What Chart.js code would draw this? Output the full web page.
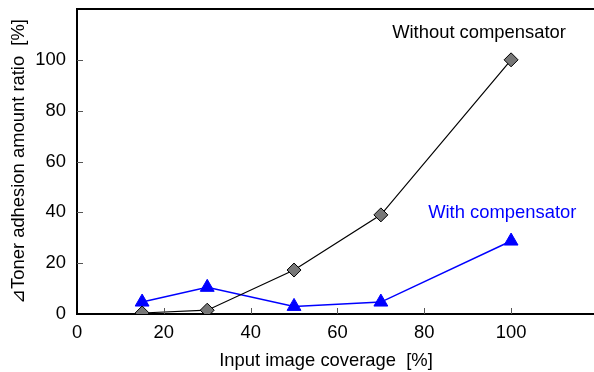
<!DOCTYPE html>
<html>
<head>
<meta charset="utf-8">
<script src="https://cdn.jsdelivr.net/npm/chart.js@4"></script>
<style>
  html, body { margin: 0; padding: 0; background: #fff; }
  #wrap { width: 594px; height: 372px; }
</style>
</head>
<body>
<div id="wrap"><canvas id="toner"></canvas></div>
<script>
// --- data ---
const coverage = [15, 30, 50, 70, 100];
const withoutComp = [0.4, 1.5, 17.3, 39, 100];
const withComp = [4.7, 10.5, 3, 4.7, 28.7];
const tickValues = [20, 40, 60, 80, 100];

const FONT = "'Liberation Sans', Arial, sans-serif";
const FONT_SIZE = 18.4;

// frame top line, inward ticks, x title and the two series labels
const framePlugin = {
  id: "frame",
  afterDraw(chart) {
    const { ctx, chartArea, scales } = chart;
    ctx.save();
    ctx.strokeStyle = "#000";
    ctx.lineWidth = 2;
    ctx.beginPath();
    ctx.moveTo(chartArea.left - 1, chartArea.top);
    ctx.lineTo(chart.width, chartArea.top);
    ctx.stroke();

    ctx.strokeStyle = "#555";
    ctx.lineWidth = 1;
    tickValues.forEach(function (v) {
      const px = Math.round(scales.x.getPixelForValue(v)) + 0.5;
      ctx.beginPath();
      ctx.moveTo(px, chartArea.bottom);
      ctx.lineTo(px, chartArea.bottom - 6);
      ctx.stroke();
      const py = Math.round(scales.y.getPixelForValue(v)) + 0.5;
      ctx.beginPath();
      ctx.moveTo(chartArea.left, py);
      ctx.lineTo(chartArea.left + 6, py);
      ctx.stroke();
    });

    ctx.font = FONT_SIZE + "px " + FONT;
    ctx.textBaseline = "middle";
    ctx.fillStyle = "#000";
    ctx.textAlign = "center";
    ctx.fillText("Input image coverage  [%]", 326, chartArea.bottom + 47);
    ctx.textAlign = "left";
    ctx.fillText("Without compensator", scales.x.getPixelForValue(72.6), scales.y.getPixelForValue(110.5));
    ctx.fillStyle = "#0000ff";
    ctx.fillText("With compensator", scales.x.getPixelForValue(80.9), scales.y.getPixelForValue(39.6));
    ctx.restore();
  },
};

new Chart(document.getElementById("toner"), {
  type: "line",
  data: {
    datasets: [
      {
        label: "Without compensator",
        data: coverage.map((x, i) => ({ x: x, y: withoutComp[i] })),
        borderColor: "#000",
        borderWidth: 1.2,
        pointStyle: "rectRot",
        pointRadius: 7,
        pointBackgroundColor: "#777",
        pointBorderColor: "#000",
        pointBorderWidth: 1,
      },
      {
        label: "With compensator",
        data: coverage.map((x, i) => ({ x: x, y: withComp[i] })),
        borderColor: "#0000ff",
        borderWidth: 1.5,
        pointStyle: "triangle",
        pointRadius: 8,
        pointBackgroundColor: "#0000ff",
        pointBorderColor: "#0000ff",
        pointBorderWidth: 1,
      },
    ],
  },
  options: {
    responsive: true,
    maintainAspectRatio: false,
    animation: false,
    layout: { autoPadding: false, padding: { top: 9, right: 0, left: 0, bottom: 0 } },
    plugins: {
      legend: { display: false },
      tooltip: { enabled: false },
    },
    scales: {
      x: {
        type: "linear",
        min: 0,
        max: 119.1,
        ticks: {
          stepSize: 20,
          padding: 8,
          color: "#000",
          font: { family: FONT, size: FONT_SIZE },
          callback: (v) => (v > 100 ? null : v),
        },
        grid: { drawOnChartArea: false, drawTicks: false },
        border: { color: "#000", width: 2 },
        afterFit(scale) {
          scale.height = 58;
          scale.paddingLeft = 0;
          scale.paddingRight = 0;
        },
      },
      y: {
        min: 0,
        max: 120,
        ticks: {
          stepSize: 20,
          padding: 11,
          color: "#000",
          font: { family: FONT, size: FONT_SIZE },
          callback: (v) => (v > 100 ? null : v),
        },
        grid: { drawOnChartArea: false, drawTicks: false },
        border: { color: "#000", width: 2 },
        title: {
          display: true,
          text: "⊿Toner adhesion amount ratio  [%]",
          color: "#000",
          font: { family: FONT, size: FONT_SIZE },
          padding: { top: 8, bottom: 0 },
        },
        afterFit(scale) {
          scale.width = 77;
          scale.paddingTop = 0;
          scale.paddingBottom = 0;
        },
      },
    },
  },
  plugins: [framePlugin],
});
</script>
</body>
</html>
